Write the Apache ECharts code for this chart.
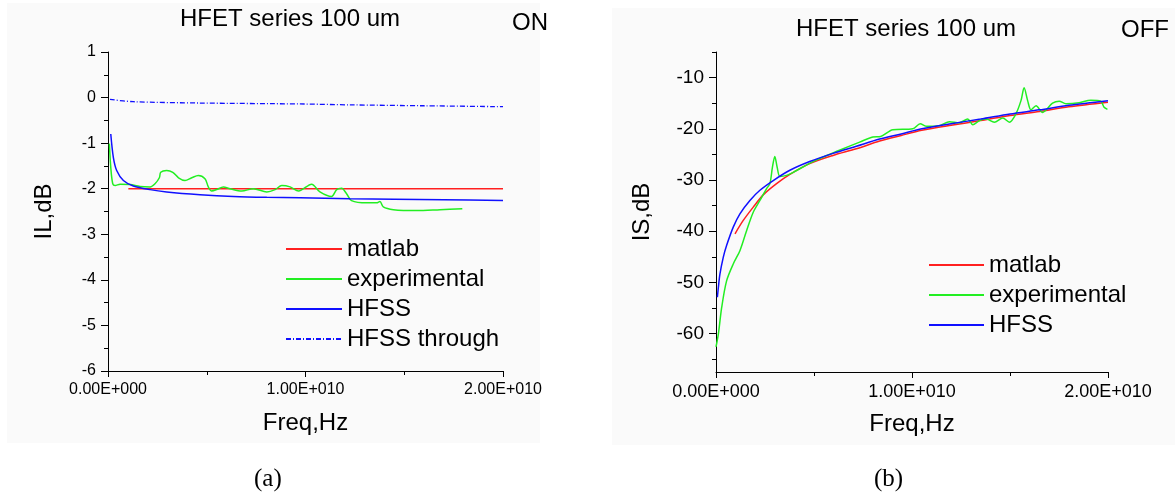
<!DOCTYPE html>
<html>
<head>
<meta charset="utf-8">
<script src="https://cdn.jsdelivr.net/npm/echarts@6/dist/echarts.min.js"></script>
<style>
  html, body { margin: 0; padding: 0; background: #fff; }
  #charts { width: 1175px; height: 501px; }
</style>
</head>
<body>
<div id="charts"></div>
<script>
// frequencies in GHz, values in dB
var onMatlab = [[1.03, -2.0], [20, -2.0]];
var onExperimental = [
  [0.07, -1.01], [0.14, -1.53], [0.24, -1.89], [0.36, -1.93], [0.61, -1.9], [1.12, -1.91],
  [1.62, -1.95], [2.13, -1.96], [2.38, -1.89], [2.6, -1.76], [2.67, -1.64], [2.97, -1.6],
  [3.28, -1.64], [3.57, -1.76], [3.9, -1.82], [4.24, -1.76], [4.57, -1.71], [4.91, -1.78],
  [5.08, -1.96], [5.25, -2.05], [5.5, -2.02], [5.84, -1.96], [6.18, -2.0], [6.77, -2.05],
  [7.36, -2.0], [8.04, -2.07], [8.46, -2.02], [8.8, -1.93], [9.22, -1.96], [9.65, -2.05],
  [10.31, -1.9], [10.73, -2.07], [11.32, -2.17], [11.58, -2.02], [11.83, -1.99], [12.08, -2.11],
  [12.33, -2.26], [13.1, -2.31], [13.6, -2.31], [13.77, -2.28], [13.94, -2.4], [14.45, -2.46],
  [15.63, -2.48], [16.81, -2.46], [17.94, -2.44]
];
var onHfss = [
  [0.14, -0.8], [0.27, -1.31], [0.44, -1.6], [0.78, -1.82], [1.28, -1.94], [2.13, -2.02],
  [2.97, -2.07], [4.66, -2.13], [6.35, -2.17], [8.04, -2.19], [9.72, -2.2], [12.25, -2.22],
  [14.5, -2.23], [17, -2.24], [20, -2.26]
];
var onHfssThrough = [
  [0.1, -0.04], [1.28, -0.09], [4.66, -0.12], [9.72, -0.14], [12.25, -0.16], [16, -0.18], [20, -0.2]
];

var offMatlab = [
  [0.97, -40.5], [1.39, -37.9], [1.9, -35.3], [2.41, -32.9], [3.09, -30.7], [3.77, -28.9],
  [4.78, -26.8], [5.97, -25.2], [7.16, -23.9], [8.35, -22.4], [9.45, -21.3], [10.5, -20.3],
  [12, -19.3], [13.5, -18.4], [15, -17.4], [16.5, -16.6], [18, -15.7], [20, -14.8]
];
var offExperimental = [
  [0, -62.6], [0.12, -60.1], [0.29, -54.9], [0.54, -49.7], [0.88, -46.4], [1.22, -43.8],
  [1.56, -39.9], [1.9, -36.3], [2.24, -34], [2.58, -31.7], [2.75, -30.7], [2.88, -27.5],
  [3.0, -25.4], [3.12, -27.5], [3.26, -29.3], [3.6, -29.1], [3.94, -28.5], [5.0, -26.3],
  [6.3, -24.2], [7.33, -22.6], [8.0, -21.6], [8.4, -21.5], [9.02, -20.2], [10.04, -20.0],
  [10.42, -19.0], [10.72, -19.5], [11.4, -19.4], [11.91, -18.6], [12.42, -18.8], [12.84, -18.1],
  [13.1, -19.2], [13.44, -18.4], [13.78, -18.1], [14.2, -18.7], [14.63, -17.9], [14.97, -18.7],
  [15.3, -17.1], [15.56, -14.5], [15.72, -12.0], [15.9, -14.5], [16.07, -16.3], [16.33, -15.5],
  [16.66, -16.8], [17.17, -15.0], [17.51, -14.6], [17.85, -15.1], [18.53, -14.9], [19.12, -14.4],
  [19.63, -14.6], [19.8, -15.8], [19.97, -16.2]
];
var offHfss = [
  [0.07, -52.9], [0.12, -51], [0.2, -48.4], [0.37, -45.1], [0.54, -42.8], [0.88, -39.2],
  [1.22, -36.6], [1.73, -34], [2.24, -32], [2.92, -30.1], [3.77, -28.1], [4.78, -26.4],
  [5.97, -24.8], [7.16, -23.4], [8.35, -22.0], [9.45, -21.0], [10.5, -20.0], [12, -19.0],
  [13.5, -18.1], [15, -17.1], [16.5, -16.3], [18, -15.4], [20, -14.5]
];

var offMajorTicks = [-60, -50, -40, -30, -20, -10];
var offMinorTicks = [-65, -55, -45, -35, -25, -15, -5];

var FONT = '"Liberation Sans", Arial, sans-serif';
var RED = '#ff2020', GREEN = '#22ee22', BLUE = '#1010ff';

function sci(v) {
  var hz = v * 1e9;
  if (hz === 0) return '0.00E+000';
  var e = Math.floor(Math.log10(hz) + 1e-9);
  var m = hz / Math.pow(10, e);
  return m.toFixed(2) + 'E+' + String(e).padStart(3, '0');
}

function xAxisFor(grid, size) {
  return {
    type: 'value', gridIndex: grid, min: 0, max: 20, interval: 10,
    name: 'Freq,Hz', nameLocation: 'middle', nameGap: 40,
    nameTextStyle: { fontFamily: FONT, fontSize: 24, color: '#000' },
    axisLine: { onZero: false, lineStyle: { color: '#000', width: 1 } },
    axisTick: { length: 6, lineStyle: { color: '#000' } },
    minorTick: { show: true, splitNumber: 2, length: 4, lineStyle: { color: '#000' } },
    axisLabel: { fontFamily: FONT, fontSize: size, color: '#000', margin: 11, formatter: sci },
    splitLine: { show: false }
  };
}

function line(name, data, color, x, extra) {
  return Object.assign({
    name: name, type: 'line', xAxisIndex: x, yAxisIndex: x === 0 ? 0 : 1,
    data: data, symbol: 'none', smooth: 0.3,
    lineStyle: { color: color, width: 1.5 }, itemStyle: { color: color },
    animation: false
  }, extra || {});
}

var legendText = { fontFamily: FONT, fontSize: 24, lineHeight: 24, color: '#000' };

var myChart = echarts.init(document.getElementById('charts'));
myChart.setOption({
  animation: false,
  graphic: [
    { type: 'rect', shape: { x: 7, y: 3, width: 533, height: 440 }, style: { fill: '#fafafa' }, z: -10 },
    { type: 'rect', shape: { x: 612, y: 8, width: 563, height: 437 }, style: { fill: '#fafafa' }, z: -10 },
    { type: 'text', left: 254, top: 467, style: { text: '(a)', font: '25px "Liberation Serif", serif', fill: '#000' } },
    { type: 'text', left: 874, top: 467, style: { text: '(b)', font: '25px "Liberation Serif", serif', fill: '#000' } }
  ],
  title: [
    { text: 'HFET series 100 um', left: 175, top: 2, textStyle: { fontFamily: FONT, fontSize: 24, fontWeight: 'normal', color: '#000' } },
    { text: 'ON', left: 507, top: 6, textStyle: { fontFamily: FONT, fontSize: 24, fontWeight: 'normal', color: '#000' } },
    { text: 'HFET series 100 um', left: 791, top: 12, textStyle: { fontFamily: FONT, fontSize: 24, fontWeight: 'normal', color: '#000' } },
    { text: 'OFF', left: 1116, top: 13, textStyle: { fontFamily: FONT, fontSize: 24, fontWeight: 'normal', color: '#000' } }
  ],
  legend: [
    {
      data: ['matlab', 'experimental', 'HFSS', 'HFSS through'],
      orient: 'vertical', left: 280, top: 232, itemWidth: 56, itemHeight: 14, itemGap: 6,
      itemStyle: { opacity: 0 },
      textStyle: legendText
    },
    {
      data: ['matlab', 'experimental', 'HFSS'],
      orient: 'vertical', left: 923, top: 248, itemWidth: 55, itemHeight: 14, itemGap: 6,
      itemStyle: { opacity: 0 },
      textStyle: legendText
    }
  ],
  grid: [
    { left: 108, top: 52, width: 395, height: 319 },
    { left: 716, top: 52, width: 392, height: 320 }
  ],
  xAxis: [xAxisFor(0, 16), xAxisFor(1, 18)],
  yAxis: [
    {
      type: 'value', gridIndex: 0, min: -6, max: 1, interval: 1,
      name: 'IL,dB', nameLocation: 'middle', nameGap: 52,
      nameTextStyle: { fontFamily: FONT, fontSize: 24, color: '#000' },
      axisLine: { show: true, onZero: false, lineStyle: { color: '#000', width: 1 } },
      axisTick: { show: true, length: 7, lineStyle: { color: '#000' } },
      minorTick: { show: true, splitNumber: 2, length: 4, lineStyle: { color: '#000' } },
      axisLabel: { fontFamily: FONT, fontSize: 16, color: '#000', margin: 12 },
      splitLine: { show: false }
    },
    {
      type: 'value', gridIndex: 1, position: 'left', min: -67.5, max: -5,
      name: 'IS,dB', nameLocation: 'middle', nameGap: 62,
      nameTextStyle: { fontFamily: FONT, fontSize: 24, color: '#000' },
      axisLine: { show: true, onZero: false, lineStyle: { color: '#000', width: 1 } },
      axisTick: { show: true, length: 7, customValues: offMajorTicks, lineStyle: { color: '#000' } },
      axisLabel: { fontFamily: FONT, fontSize: 19, color: '#000', margin: 12, customValues: offMajorTicks },
      splitLine: { show: false }
    },
    {
      type: 'value', gridIndex: 1, position: 'left', offset: 0, min: -67.5, max: -5,
      axisLine: { show: false, onZero: false },
      axisTick: { show: true, length: 4, customValues: offMinorTicks, lineStyle: { color: '#000' } },
      axisLabel: { show: false },
      splitLine: { show: false }
    }
  ],
  series: [
    line('matlab', onMatlab, RED, 0, { smooth: false }),
    line('experimental', onExperimental, GREEN, 0),
    line('HFSS', onHfss, BLUE, 0),
    line('HFSS through', onHfssThrough, BLUE, 0, { lineStyle: { color: BLUE, width: 1.3, type: [5, 2, 1, 2] } }),
    line('matlab', offMatlab, RED, 1),
    line('experimental', offExperimental, GREEN, 1),
    line('HFSS', offHfss, BLUE, 1)
  ]
});
</script>
</body>
</html>
